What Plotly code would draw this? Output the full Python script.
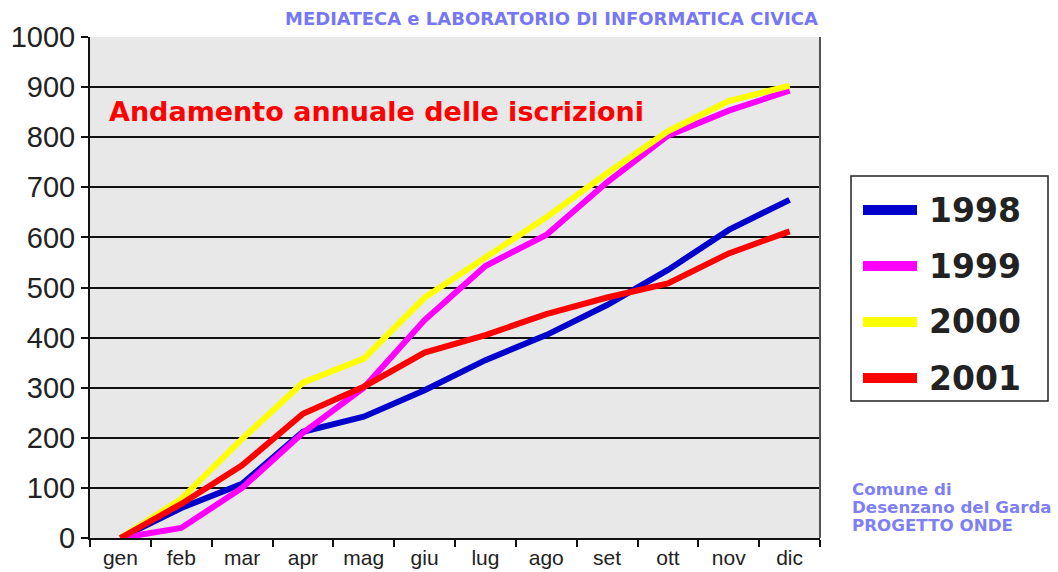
import plotly.graph_objects as go

months = ["gen", "feb", "mar", "apr", "mag", "giu", "lug", "ago", "set", "ott", "nov", "dic"]
series_names = ["1998", "1999", "2000", "2001"]
v1998 = [0, 60, 108, 212, 242, 295, 355, 405, 465, 535, 615, 675]
v1999 = [0, 20, 100, 210, 300, 435, 543, 605, 710, 803, 853, 893]
v2000 = [0, 78, 198, 310, 358, 480, 560, 640, 728, 812, 872, 903]
v2001 = [0, 68, 145, 248, 302, 370, 405, 447, 480, 508, 568, 612]
series_colors = ["#0000cc", "#ff00ff", "#ffff00", "#ff0000"]
y_ticks = list(range(0, 1001, 100))

W, H = 1058, 572
L, R, T, B = 90, 820, 37, 538


def px(x):
    return (x - L) / (R - L)


def py(y):
    return (B - y) / (B - T)


fig = go.Figure()
for name, vals, col in zip(series_names, [v1998, v1999, v2000, v2001], series_colors):
    fig.add_trace(go.Scatter(x=months, y=vals, mode="lines", name=name,
                             line=dict(color=col, width=6), showlegend=False))

shapes = []
annotations = []
# right border of the plot area
shapes.append(dict(type="line", xref="paper", yref="paper", x0=1, x1=1, y0=0, y1=1,
                   line=dict(color="#555555", width=2)))
# legend box
shapes.append(dict(type="rect", xref="paper", yref="paper", x0=px(851), x1=px(1048),
                   y0=py(401), y1=py(176), line=dict(color="#222222", width=1.5),
                   fillcolor="white"))
leg_y = [210, 266, 322, 378]
for name, col, yy in zip(series_names, series_colors, leg_y):
    shapes.append(dict(type="line", xref="paper", yref="paper", x0=px(863), x1=px(917),
                       y0=py(yy), y1=py(yy), line=dict(color=col, width=10)))
    annotations.append(dict(text=name, xref="paper", yref="paper", x=px(927), y=py(yy),
                            xanchor="left", yanchor="middle", showarrow=False,
                            font=dict(family="DejaVu Sans", size=33, color="#222222",
                                      weight="bold")))

annotations.append(dict(text="Andamento annuale delle iscrizioni", xref="paper", yref="paper",
                        x=px(107), y=py(112), xanchor="left", yanchor="middle", showarrow=False,
                        font=dict(family="DejaVu Sans", size=27, color="#ff0000", weight="bold")))
annotations.append(dict(text="MEDIATECA e LABORATORIO DI INFORMATICA CIVICA", xref="paper",
                        yref="paper", x=px(551), y=py(19), xanchor="center", yanchor="middle",
                        showarrow=False,
                        font=dict(family="DejaVu Sans", size=18, color="#7777f5", weight="bold")))
for txt, yy in zip(["Comune di", "Desenzano del Garda", "PROGETTO ONDE"], [489, 507, 525]):
    annotations.append(dict(text=txt, xref="paper", yref="paper", x=px(850), y=py(yy),
                            xanchor="left", yanchor="middle", showarrow=False,
                            font=dict(family="DejaVu Sans", size=16.7, color="#7f7ff5",
                                      weight="bold")))

fig.update_layout(
    width=W, height=H,
    margin=dict(l=L, r=W - R, t=T, b=H - B, pad=0, autoexpand=False),
    paper_bgcolor="white",
    plot_bgcolor="#e8e8e8",
    shapes=shapes,
    annotations=annotations,
    xaxis=dict(type="category", categoryorder="array", categoryarray=months,
               range=[-0.5, 11.5], showgrid=False, zeroline=False, automargin=False,
               showline=True, linecolor="#111111", linewidth=2,
               ticks="outside", tickson="boundaries", ticklen=7, tickwidth=2,
               tickcolor="#111111",
               tickfont=dict(family="Liberation Sans, Arial", size=21, color="#222222")),
    yaxis=dict(range=[0, 1000], tickvals=y_ticks, showgrid=True, gridcolor="#111111",
               gridwidth=2, zeroline=False, showline=True, linecolor="#111111", linewidth=2,
               ticks="outside", ticklen=7, tickwidth=2, tickcolor="#111111",
               ticklabelstandoff=0, automargin=False,
               tickfont=dict(family="Liberation Sans, Arial", size=29, color="#222222")),
)

fig.write_html("out.html", config={"displayModeBar": False},
               post_script="document.body.style.margin='0';")
